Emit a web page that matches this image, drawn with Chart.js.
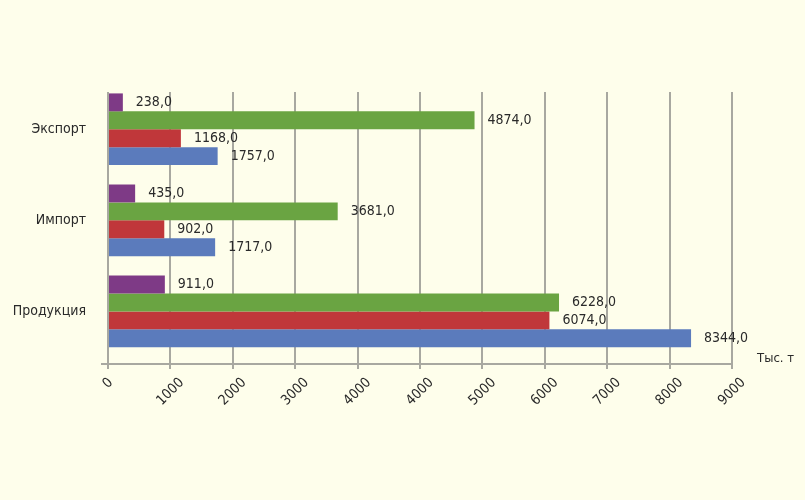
<!DOCTYPE html>
<html>
<head>
<meta charset="utf-8">
<script src="https://cdn.jsdelivr.net/npm/chart.js@4.4.1/dist/chart.umd.min.js"></script>
<style>
  html, body { margin: 0; padding: 0; background: #fefeeb; }
  #wrap { width: 805px; height: 500px; }
</style>
</head>
<body>
<div id="wrap"><canvas id="chart"></canvas></div>
<script>
// Data as printed on the chart (тыс. т)
const categories = ['Экспорт', 'Импорт', 'Продукция'];
const seriesPurple = [238, 435, 911];
const seriesGreen = [4874, 3681, 6228];
const seriesRed = [1168, 902, 6074];
const seriesBlue = [1757, 1717, 8344];
// Value-axis tick labels, one per gridline (the original repeats 4000)
const tickLabels = [0, 1000, 2000, 3000, 4000, 4000, 5000, 6000, 7000, 8000, 9000];

const FONT = "'Liberation Sans Narrow', 'DejaVu Sans Condensed', 'Roboto', sans-serif";
const TEXT = '#2a2a2a';
Chart.defaults.font.family = FONT;
Chart.defaults.color = TEXT;

// Linear scale whose gridlines carry the labels above; values are placed
// between the two labelled gridlines they fall between.
class LabelledScale extends Chart.LinearScale {
    static id = 'labelled';
    toStep(v) {
        let i = 0;
        for (let k = 0; k < tickLabels.length - 1; k++) {
            if (tickLabels[k] <= v) i = k;
        }
        const lo = tickLabels[i], hi = tickLabels[i + 1];
        return i + (v - lo) / (hi - lo);
    }
    getPixelForValue(value) {
        if (value === null || value === undefined) return NaN;
        return super.getPixelForValue(this.toStep(value));
    }
    getPixelForTick(index) {
        const t = this.ticks[index];
        return t ? super.getPixelForValue(t.value) : null;
    }
}
Chart.register(LabelledScale);

const toPoints = (vals) => vals.map((v, i) => ({ x: v, y: i }));

const barLabels = {
    id: 'barLabels',
    afterDatasetsDraw(chart) {
        const ctx = chart.ctx;
        ctx.save();
        ctx.font = "14px " + FONT;
        ctx.fillStyle = TEXT;
        ctx.textAlign = 'left';
        ctx.textBaseline = 'middle';
        chart.data.datasets.forEach((ds, di) => {
            chart.getDatasetMeta(di).data.forEach((bar, i) => {
                const txt = ds.data[i].x.toFixed(1).replace('.', ',');
                ctx.fillText(txt, bar.x + 13, bar.y);
            });
        });
        ctx.restore();
    }
};

// Rotated value-axis labels, centred on their gridline like the original
const xTickLabels = {
    id: 'xTickLabels',
    afterDraw(chart) {
        const ctx = chart.ctx;
        const sc = chart.scales.x;
        const top = sc.top + 13;
        const h = 10;
        ctx.save();
        ctx.font = "14px " + FONT;
        ctx.fillStyle = TEXT;
        ctx.textAlign = 'center';
        ctx.textBaseline = 'middle';
        sc.ticks.forEach((t, i) => {
            const txt = String(tickLabels[t.value]);
            const w = ctx.measureText(txt).width;
            const cx = sc.getPixelForTick(i);
            const cy = top + (w + h) * Math.SQRT1_2 / 2;
            ctx.save();
            ctx.translate(cx, cy);
            ctx.rotate(-Math.PI / 4);
            ctx.fillText(txt, 0, 0);
            ctx.restore();
        });
        // short stub of the axis line left of zero
        ctx.strokeStyle = '#a8a8a0';
        ctx.lineWidth = 2;
        ctx.beginPath();
        ctx.moveTo(sc.left - 7, sc.top);
        ctx.lineTo(sc.left, sc.top);
        ctx.stroke();
        ctx.restore();
    }
};

const unitLabel = {
    id: 'unitLabel',
    afterDraw(chart) {
        const ctx = chart.ctx;
        const a = chart.chartArea;
        ctx.save();
        ctx.font = "13px " + FONT;
        ctx.fillStyle = TEXT;
        ctx.textAlign = 'left';
        ctx.textBaseline = 'middle';
        ctx.fillText('Тыс. т', a.right + 25, a.bottom - 5);
        ctx.restore();
    }
};

const bgFill = {
    id: 'bgFill',
    beforeDraw(chart) {
        const ctx = chart.ctx;
        ctx.save();
        ctx.fillStyle = '#fefeeb';
        ctx.fillRect(0, 0, chart.width, chart.height);
        ctx.restore();
    }
};

const mkSet = (vals, color) => ({
    data: toPoints(vals),
    backgroundColor: color,
    borderWidth: 0,
    categoryPercentage: 0.787,
    barPercentage: 1.0
});

new Chart(document.getElementById('chart').getContext('2d'), {
    type: 'bar',
    data: {
        datasets: [
            mkSet(seriesPurple, '#7e3a86'),
            mkSet(seriesGreen, '#6aa442'),
            mkSet(seriesRed, '#c0373a'),
            mkSet(seriesBlue, '#5b7bbc')
        ]
    },
    options: {
        indexAxis: 'y',
        responsive: true,
        maintainAspectRatio: false,
        animation: false,
        layout: { padding: { top: 92, right: 73, bottom: 0, left: 0 } },
        plugins: { legend: { display: false }, tooltip: { enabled: false } },
        scales: {
            x: {
                type: 'labelled',
                min: 0,
                max: 10,
                afterFit: (s) => { s.height = 136; },
                grid: { color: '#a8a8a0', lineWidth: 2, tickLength: 5 },
                border: { display: true, color: '#a8a8a0', width: 2 },
                ticks: { stepSize: 1, autoSkip: false, display: false }
            },
            y: {
                type: 'linear',
                reverse: true,
                offset: false,
                bounds: 'data',
                min: -0.409,
                max: 2.577,
                afterBuildTicks: (s) => { s.ticks = categories.map((c, i) => ({ value: i })); },
                afterFit: (s) => { s.width = 108; },
                grid: { display: false, drawTicks: false, offset: false },
                border: { display: false },
                ticks: {
                    autoSkip: false,
                    padding: 22,
                    font: { size: 14 },
                    callback: (v) => categories[v] ?? ''
                }
            }
        }
    },
    plugins: [bgFill, barLabels, xTickLabels, unitLabel]
});
</script>
</body>
</html>
